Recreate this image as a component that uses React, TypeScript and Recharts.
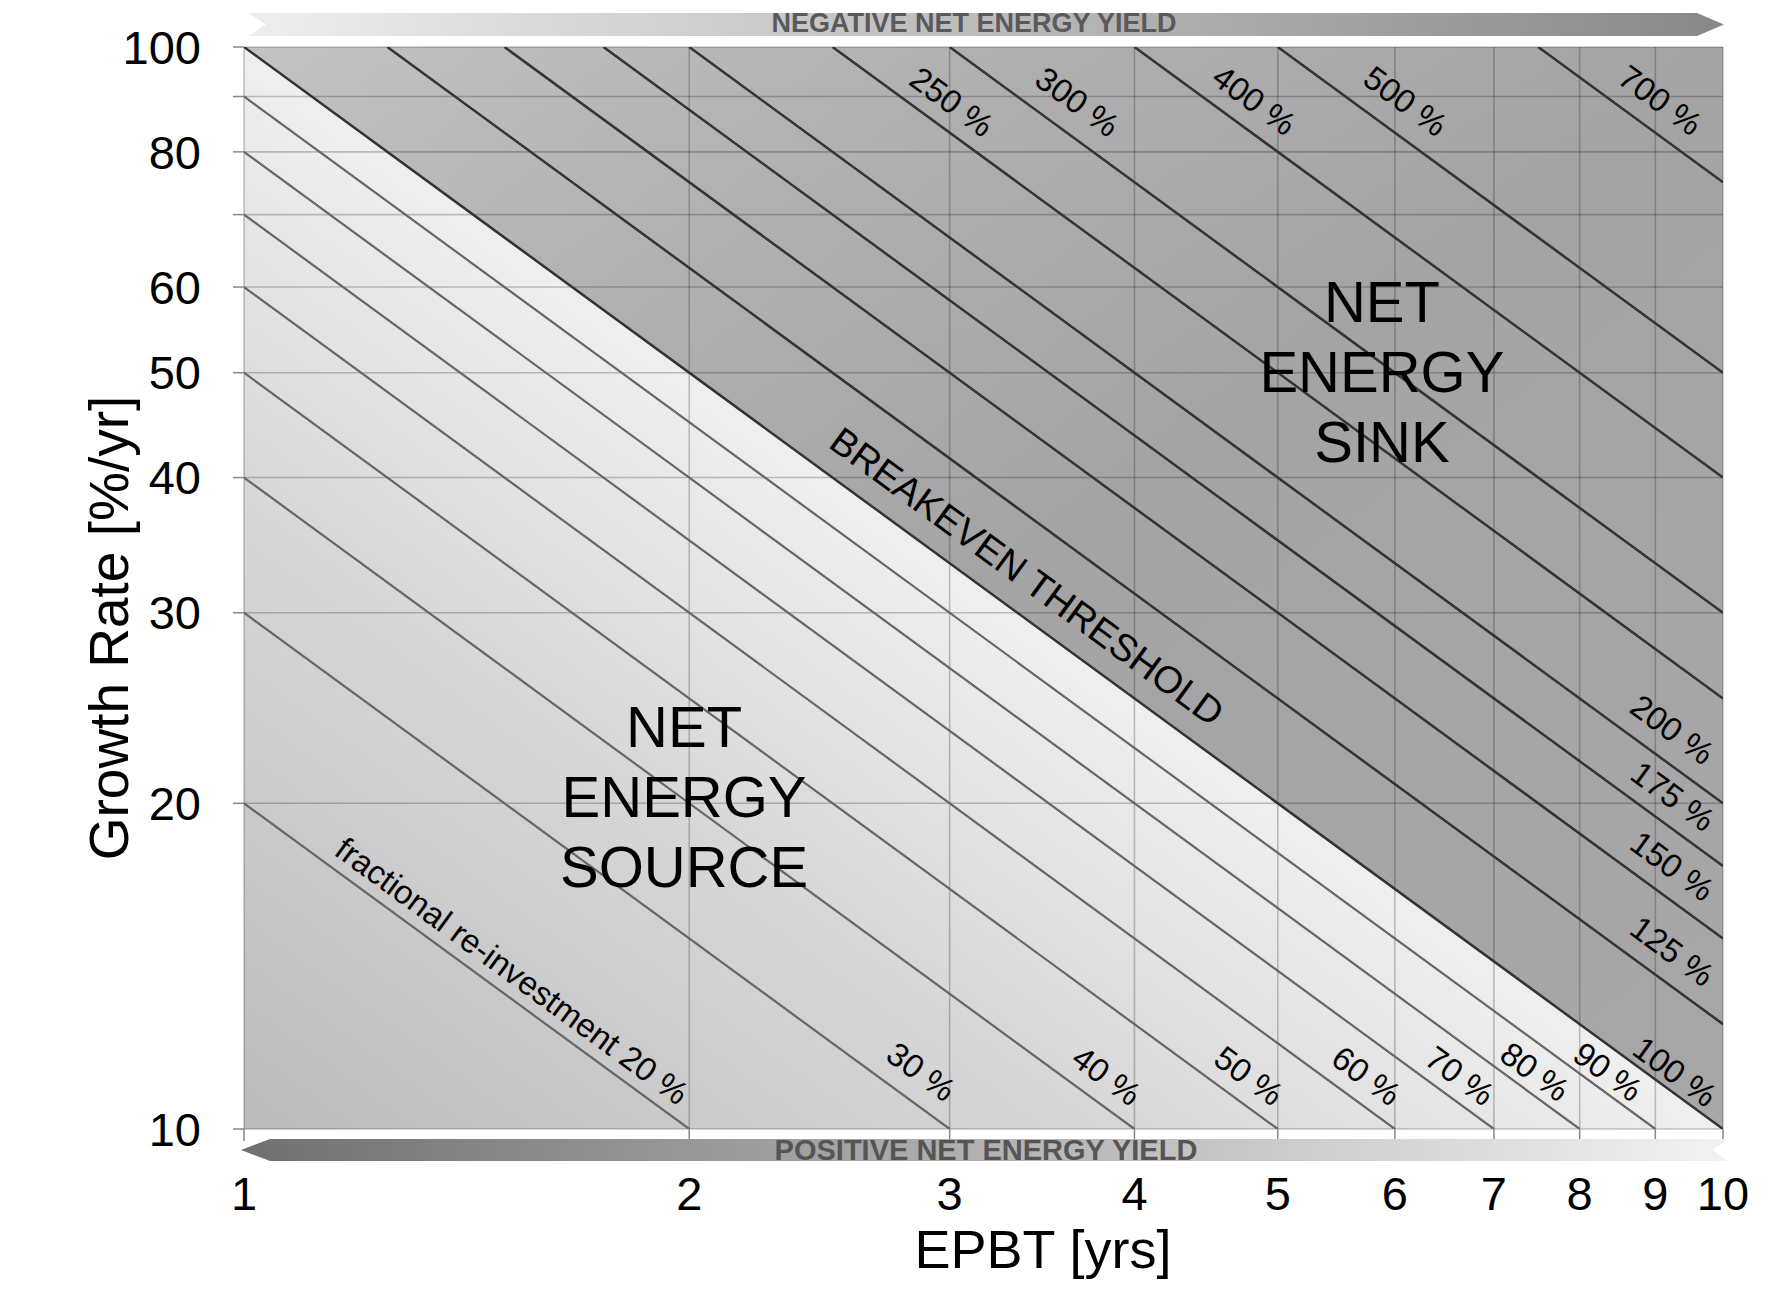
import { ComposedChart, Area, Line, Scatter, XAxis, YAxis, CartesianGrid } from 'recharts'

const FONT = '"Liberation Sans", Arial, Helvetica, sans-serif'

const W = 1765
const H = 1293
const PLOT = { left: 244, top: 47, right: 1723, bottom: 1129 }
// both axes span one decade, so the g * EPBT = const lines all share this screen angle
const ANGLE = (Math.atan((PLOT.bottom - PLOT.top) / (PLOT.right - PLOT.left)) * 180) / Math.PI

const xTicks = [1, 2, 3, 4, 5, 6, 7, 8, 9, 10]
const yTicks = [10, 20, 30, 40, 50, 60, 70, 80, 90, 100]
const yTickLabels = [10, 20, 30, 40, 50, 60, 80, 100]

// breakeven threshold (100 % re-investment)
const breakeven = [
  { e: 1, g: 100 },
  { e: 10, g: 10 },
]

// lines below breakeven: start on the left edge (EPBT 1), end on the bottom edge (growth 10)
const lowerStartG = [20, 30, 40, 50, 60, 70, 80, 90]
const lowerEndE = [2, 3, 4, 5, 6, 7, 8, 9]

// lines above breakeven: start on the top edge (growth 100), end on the right edge (EPBT 10)
const upperStartE = [1.25, 1.5, 1.75, 2, 2.5, 3, 4, 5, 7.5]
const upperEndG = [12.5, 15, 17.5, 20, 25, 30, 40, 50, 75]

const lowerLines = lowerStartG.map((g, i) => [
  { e: 1, g },
  { e: lowerEndE[i], g: 10 },
])
const upperLines = upperStartE.map((e, i) => [
  { e, g: 100 },
  { e: 10, g: upperEndG[i] },
])

const pctLabels = [
  { text: '250 %', e: 3.01, g: 89.0, size: 33 },
  { text: '300 %', e: 3.66, g: 89.0, size: 33 },
  { text: '400 %', e: 4.82, g: 89.3, size: 33 },
  { text: '500 %', e: 6.1, g: 89.1, size: 33 },
  { text: '700 %', e: 9.07, g: 89.3, size: 33 },
  { text: '200 %', e: 9.24, g: 23.4, size: 33 },
  { text: '175 %', e: 9.25, g: 20.3, size: 33 },
  { text: '150 %', e: 9.24, g: 17.5, size: 33 },
  { text: '125 %', e: 9.24, g: 14.6, size: 33 },
  { text: '100 %', e: 9.28, g: 11.3, size: 33 },
  { text: '90 %', e: 8.36, g: 11.3, size: 33 },
  { text: '80 %', e: 7.46, g: 11.3, size: 33 },
  { text: '70 %', e: 6.64, g: 11.2, size: 33 },
  { text: '60 %', e: 5.74, g: 11.2, size: 33 },
  { text: '50 %', e: 4.78, g: 11.2, size: 33 },
  { text: '40 %', e: 3.83, g: 11.2, size: 33 },
  { text: '30 %', e: 2.87, g: 11.3, size: 33 },
  { text: 'fractional re-investment 20 %', e: 1.518, g: 14.0, size: 33 },
  { text: 'BREAKEVEN THRESHOLD', e: 3.384, g: 32.4, size: 38 },
]

const regionLabels = [
  { lines: ['NET', 'ENERGY', 'SINK'], e: 5.88, g: 50.2 },
  { lines: ['NET', 'ENERGY', 'SOURCE'], e: 1.984, g: 20.3 },
]

const RotatedLabel = (props: any) => {
  const { cx, cy, payload } = props
  return (
    <text
      x={cx}
      y={cy}
      transform={`rotate(${ANGLE} ${cx} ${cy})`}
      textAnchor="middle"
      dominantBaseline="central"
      fontFamily={FONT}
      fontSize={payload.size}
      fill="#000"
    >
      {payload.text}
    </text>
  )
}

const BlockLabel = (props: any) => {
  const { cx, cy, payload } = props
  return (
    <text textAnchor="middle" dominantBaseline="central" fontFamily={FONT} fontSize={58} fill="#000">
      {payload.lines.map((s: string, i: number) => (
        <tspan key={s} x={cx} y={cy + (i - 1) * 70}>
          {s}
        </tspan>
      ))}
    </text>
  )
}

const YTick = (props: any) => {
  const { x, y, payload } = props
  if (!yTickLabels.includes(payload.value)) return null
  return (
    <text x={x} y={y} dy="0.355em" textAnchor="end" fontFamily={FONT} fontSize={47} fill="#000">
      {payload.value}
    </text>
  )
}

export default function App() {
  return (
    <div style={{ position: 'absolute', left: 0, top: 0, width: W, height: H, background: '#fff' }}>
      <ComposedChart
        width={W}
        height={H}
        margin={{ top: PLOT.top, right: W - PLOT.right, bottom: 0, left: 0 }}
      >
        <defs>
          <linearGradient id="srcGrad" x1="0" y1="1" x2="0.5" y2="0.5">
            <stop offset="0" stopColor="#bbbbbb" />
            <stop offset="0.6" stopColor="#d8d8d8" />
            <stop offset="1" stopColor="#efefef" />
          </linearGradient>
          <linearGradient id="sinkGrad" x1="0" y1="0" x2="1" y2="1">
            <stop offset="0" stopColor="#c3c3c3" />
            <stop offset="0.25" stopColor="#b0b0b0" />
            <stop offset="0.5" stopColor="#a4a4a4" />
            <stop offset="1" stopColor="#a7a7a7" />
          </linearGradient>
        </defs>
        <XAxis
          dataKey="e"
          type="number"
          scale="log"
          domain={[1, 10]}
          ticks={xTicks}
          interval={0}
          allowDataOverflow
          height={H - PLOT.bottom}
          axisLine={false}
          tickSize={12}
          tickMargin={36}
          tickLine={{ stroke: '#888', strokeWidth: 1.5 }}
          tick={{ fontSize: 47, fill: '#000', fontFamily: FONT }}
        />
        <YAxis
          type="number"
          scale="log"
          domain={[10, 100]}
          ticks={yTicks}
          interval={0}
          allowDataOverflow
          width={PLOT.left}
          axisLine={false}
          tickSize={11}
          tickMargin={32}
          tickLine={{ stroke: '#888', strokeWidth: 1.5 }}
          tick={YTick}
        />
        <Area
          data={breakeven}
          dataKey="g"
          type="linear"
          stroke="none"
          fill="url(#srcGrad)"
          fillOpacity={1}
          baseValue="dataMin"
          isAnimationActive={false}
        />
        <Area
          data={breakeven}
          dataKey="g"
          type="linear"
          stroke="none"
          fill="url(#sinkGrad)"
          fillOpacity={1}
          baseValue="dataMax"
          isAnimationActive={false}
        />
        <CartesianGrid stroke="#000" strokeOpacity={0.22} strokeWidth={1.6} zIndex={150} />
        {lowerLines.map((d, i) => (
          <Line
            key={'lo' + i}
            data={d}
            dataKey="g"
            type="linear"
            stroke="#666"
            strokeWidth={2.2}
            dot={false}
            activeDot={false}
            isAnimationActive={false}
          />
        ))}
        {upperLines.map((d, i) => (
          <Line
            key={'up' + i}
            data={d}
            dataKey="g"
            type="linear"
            stroke="#333"
            strokeWidth={2.5}
            dot={false}
            activeDot={false}
            isAnimationActive={false}
          />
        ))}
        <Line
          data={breakeven}
          dataKey="g"
          type="linear"
          stroke="#333"
          strokeWidth={2.5}
          dot={false}
          activeDot={false}
          isAnimationActive={false}
        />
        <Scatter data={pctLabels} dataKey="g" shape={RotatedLabel} isAnimationActive={false} />
        <Scatter data={regionLabels} dataKey="g" shape={BlockLabel} isAnimationActive={false} />
      </ComposedChart>

      <svg
        width={W}
        height={H}
        style={{ position: 'absolute', left: 0, top: 0, pointerEvents: 'none' }}
      >
        <defs>
          <linearGradient id="negArrow" x1="0" y1="0" x2="1" y2="0">
            <stop offset="0" stopColor="#eeeeee" />
            <stop offset="1" stopColor="#888888" />
          </linearGradient>
          <linearGradient id="posArrow" x1="0" y1="0" x2="1" y2="0">
            <stop offset="0" stopColor="#707070" />
            <stop offset="1" stopColor="#f2f2f2" />
          </linearGradient>
        </defs>
        <polygon points="248,13 1697,13 1724,24.5 1697,36 248,36 266,24.5" fill="url(#negArrow)" />
        <text x={974} y={32} textAnchor="middle" fontFamily={FONT} fontWeight="bold" fontSize={27} fill="#5a5a5a">
          NEGATIVE NET ENERGY YIELD
        </text>
        <polygon points="241,1150 270,1139 1727,1139 1713,1150 1727,1161 270,1161" fill="url(#posArrow)" />
        <text x={986} y={1160} textAnchor="middle" fontFamily={FONT} fontWeight="bold" fontSize={29} fill="#555">
          POSITIVE NET ENERGY YIELD
        </text>
        <text x={1043} y={1268} textAnchor="middle" fontFamily={FONT} fontSize={54} fill="#000">
          EPBT [yrs]
        </text>
        <text
          x={128}
          y={628}
          transform="rotate(-90 128 628)"
          textAnchor="middle"
          fontFamily={FONT}
          fontSize={55}
          fill="#000"
        >
          Growth Rate [%/yr]
        </text>
      </svg>
    </div>
  )
}
